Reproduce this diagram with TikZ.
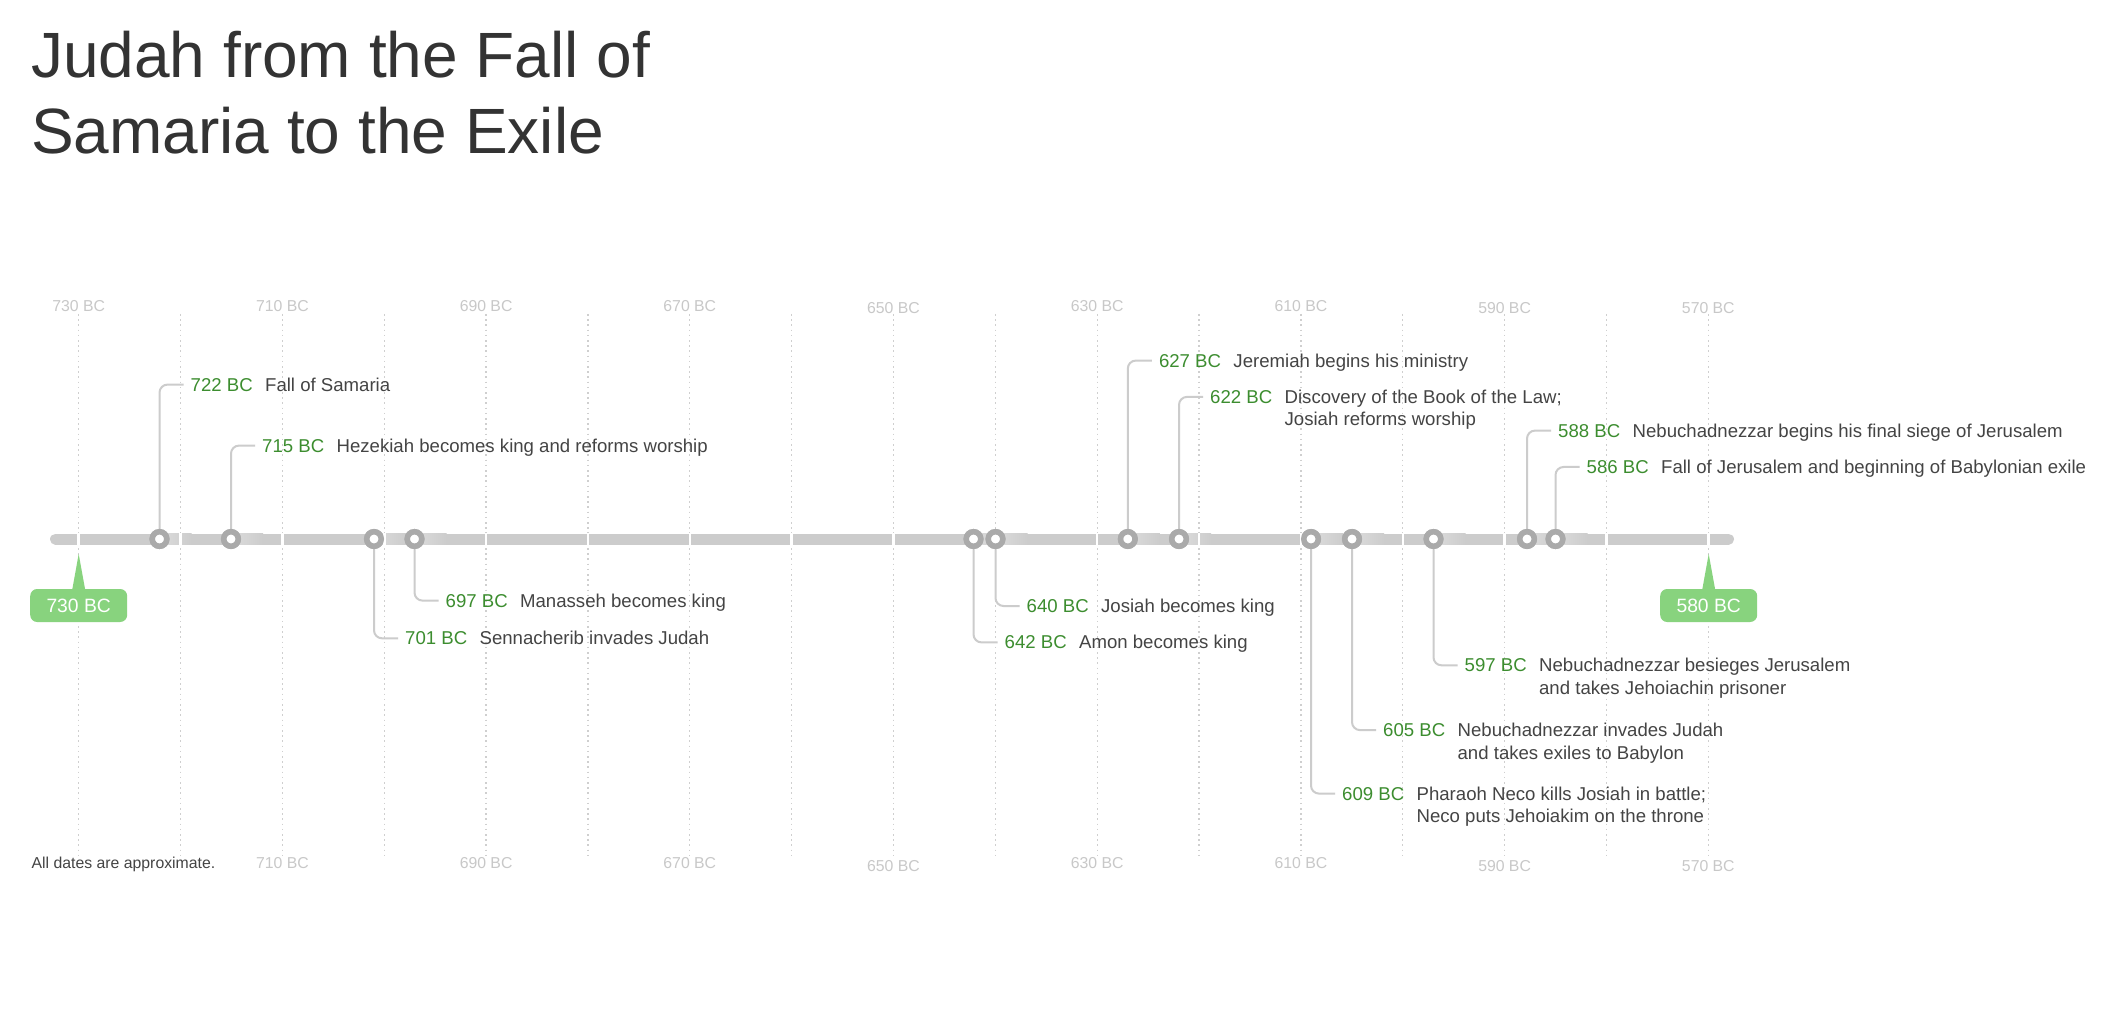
\documentclass[tikz,border=0pt]{standalone}
\usepackage{fontspec}
\setmainfont{Liberation Sans}
\definecolor{titlecol}{HTML}{333333}
\definecolor{desccol}{HTML}{444444}
\definecolor{datecol}{HTML}{3C8D2F}
\definecolor{badgecol}{HTML}{88D37E}
\definecolor{barcol}{HTML}{CCCCCC}
\definecolor{ringcol}{HTML}{AAAAAA}
\definecolor{gridcol}{HTML}{CFCFCF}
\definecolor{axcol}{HTML}{C8C8C8}
\definecolor{lightbar}{HTML}{D9D9D9}
\tikzset{
  titlestyle/.style={inner sep=0pt, text=titlecol, font=\fontsize{64}{77}\selectfont},
  axl/.style={inner sep=0pt, text=axcol, font=\fontsize{15.8}{19}\selectfont},
  foot/.style={inner sep=0pt, text=desccol, font=\fontsize{15.8}{19}\selectfont},
  gridline/.style={draw=gridcol, line width=1.3pt, dash pattern=on 1.6pt off 3.6pt},
  barline/.style={draw=barcol, line width=11pt, line cap=round},
  gapline/.style={draw=white, line width=2.5pt},
  ringnode/.style={circle, draw=ringcol, line width=5.5pt, fill=white, minimum size=14.5pt, inner sep=0pt},
  conn/.style={draw=barcol, line width=2pt, rounded corners=8pt},
  datelbl/.style={inner sep=0pt, text=datecol, font=\fontsize{18.6}{22.5}\selectfont},
  desclbl/.style={inner sep=0pt, text=desccol, font=\fontsize{18.6}{22.5}\selectfont},
  badge/.style={rectangle, rounded corners=7pt, fill=badgecol, text=white, minimum width=97pt, minimum height=33pt, inner sep=0pt, font=\fontsize{19.3}{23}\selectfont}
}
% #1 id, #2 circle x, #3 baseline y, #4 date, #5 description
\newcommand\tlevent[5]{%
  \coordinate (p#1) at (#2,539);
  \shade[left color=lightbar, right color=barcol] (#2+6,533.5) rectangle (#2+32,544.5);
  \node[datelbl, anchor=base west] (d#1) at (#2+31,#3) {#4};
  \node[desclbl, anchor=base west] (t#1) at ([xshift=12pt]d#1.base east) {\begin{tabular}[t]{@{}l@{}}#5\end{tabular}};
  \draw[conn] (p#1) |- ([xshift=-7pt]d#1.west);
  \node[ringnode] (c#1) at (p#1) {};
}
\begin{document}
\begin{tikzpicture}[x=1pt,y=-1pt]
\useasboundingbox (0,0) rectangle (2115,1024);
\fill[white] (0,0) rectangle (2115,1024);

% title
\node[titlestyle, anchor=base west] (title1) at (31,77.3) {Judah from the Fall of};
\node[titlestyle, anchor=base west] (title2) at (31,154) {Samaria to the Exile};

% grid
\foreach \yv in {730,720,...,570} {
  \pgfmathsetmacro\gx{78.7+(730-\yv)*10.185}
  \draw[gridline] (\gx,314) -- (\gx,855);
}
% axis labels
\foreach \yv/\dy in {730/0,710/0,690/0,670/0,650/2.7,630/0,610/0,590/2.7,570/2.7} {
  \pgfmathsetmacro\gx{78.7+(730-\yv)*10.185}
  \node[axl] (top\yv) at (\gx,305.7+\dy) {\yv\ BC};
}
\foreach \yv/\dy in {710/0,690/0,670/0,650/2.7,630/0,610/0,590/2.7,570/2.7} {
  \pgfmathsetmacro\gx{78.7+(730-\yv)*10.185}
  \node[axl] (bot\yv) at (\gx,863+\dy) {\yv\ BC};
}
\node[foot, anchor=west] (note) at (31.5,864.3) {All dates are approximate.};

% bar
\coordinate (barL) at (55.5,539);
\coordinate (barR) at (1728.5,539);
\draw[barline] (barL) -- (barR);

% events
\tlevent{722}{159.5}{391}{722 BC}{Fall of Samaria}
\tlevent{715}{231}{452}{715 BC}{Hezekiah becomes king and reforms worship}
\tlevent{701}{374}{644.7}{701 BC}{Sennacherib invades Judah}
\tlevent{697}{414.5}{607}{697 BC}{Manasseh becomes king}
\tlevent{642}{973.5}{648.8}{642 BC}{Amon becomes king}
\tlevent{640}{995.5}{612.4}{640 BC}{Josiah becomes king}
\tlevent{627}{1127.8}{367}{627 BC}{Jeremiah begins his ministry}
\tlevent{622}{1179}{403.3}{622 BC}{Discovery of the Book of the Law;\\Josiah reforms worship}
\tlevent{609}{1311}{800}{609 BC}{Pharaoh Neco kills Josiah in battle;\\Neco puts Jehoiakim on the throne}
\tlevent{605}{1352}{736.5}{605 BC}{Nebuchadnezzar invades Judah\\and takes exiles to Babylon}
\tlevent{597}{1433.5}{671.7}{597 BC}{Nebuchadnezzar besieges Jerusalem\\and takes Jehoiachin prisoner}
\tlevent{588}{1527}{437}{588 BC}{Nebuchadnezzar begins his final siege of Jerusalem}
\tlevent{586}{1555.5}{473.4}{586 BC}{Fall of Jerusalem and beginning of Babylonian exile}

% gaps in bar at each decade
\foreach \yv in {730,720,...,570} {
  \pgfmathsetmacro\gx{78.7+(730-\yv)*10.185}
  \draw[gapline] (\gx,533) -- (\gx,545);
}
% redraw circles over gaps
\foreach \id in {722,715,701,697,642,640,627,622,609,605,597,588,586} {
  \node[ringnode] at (c\id) {};
}

% badges
\node[badge] (b730) at (78.7,605.5) {730 BC};
\fill[badgecol] ([xshift=-6.5pt,yshift=-1pt]b730.north) -- (78.7,554) -- ([xshift=6.5pt,yshift=-1pt]b730.north) -- cycle;
\node[badge] (b580) at (1708.7,605.5) {580 BC};
\fill[badgecol] ([xshift=-6.5pt,yshift=-1pt]b580.north) -- (1708.7,554) -- ([xshift=6.5pt,yshift=-1pt]b580.north) -- cycle;
\end{tikzpicture}
\end{document}
